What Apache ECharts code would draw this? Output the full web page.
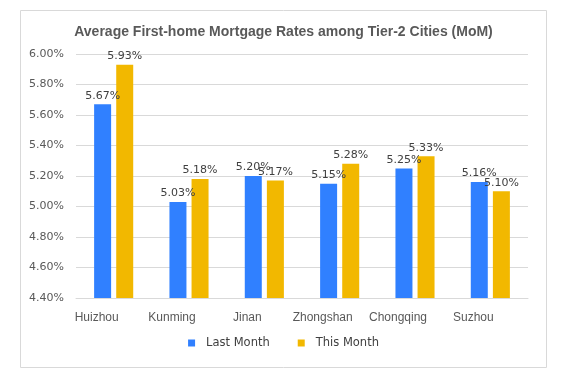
<!DOCTYPE html>
<html><head><meta charset="utf-8">
<script src="https://cdn.jsdelivr.net/npm/echarts@6/dist/echarts.min.js"></script>
<style>html,body{margin:0;padding:0;background:#fff}#c{width:567px;height:382px}</style>
</head><body><div id="c"></div>
<script>
const categories = ['Huizhou','Kunming','Jinan','Zhongshan','Chongqing','Suzhou'];
const lastMonth = [5.67, 5.03, 5.20, 5.15, 5.25, 5.16];
const thisMonth = [5.93, 5.18, 5.17, 5.28, 5.33, 5.10];
const seriesNames = ['Last Month','This Month'];
const chart = echarts.init(document.getElementById('c'));
const lbl = {show:true, position:'top', distance:3, color:'#404040', fontSize:11, fontFamily:'DejaVu Sans', formatter:p=>p.value.toFixed(2)+'%'};
chart.setOption({
  animation:false,
  graphic:[{type:'rect', shape:{x:20.5,y:10.5,width:526,height:357}, style:{fill:'none', stroke:'#d9d9d9', lineWidth:1}}],
  title:{text:'Average First-home Mortgage Rates among Tier-2 Cities (MoM)', left:'center', top:20,
    textStyle:{fontSize:14, fontWeight:'bold', color:'#595959', fontFamily:'Liberation Sans'}},
  legend:{data:seriesNames, bottom:28, left:'center', itemWidth:7, itemHeight:7, itemGap:28, icon:'rect',
    textStyle:{color:'#404040', fontSize:11.5, fontFamily:'DejaVu Sans', padding:[0,0,0,6]}},
  grid:{left:76, right:39, top:54, bottom:84},
  xAxis:{type:'category', data:categories,
    axisLine:{lineStyle:{color:'#d9d9d9'}}, axisTick:{show:false},
    axisLabel:{interval:0, color:'#595959', fontSize:12, fontFamily:'Liberation Sans', margin:14, padding:[0,34,0,0]}},
  yAxis:{type:'value', min:4.4, max:6.0, interval:0.2,
    axisLabel:{color:'#595959', fontSize:11, fontFamily:'DejaVu Sans', margin:12, formatter:v=>v.toFixed(2)+'%'},
    splitLine:{lineStyle:{color:'#d9d9d9'}}, axisLine:{show:false}, axisTick:{show:false}},
  series:[
    {name:seriesNames[0], type:'bar', data:lastMonth, barWidth:17, barGap:'30%', itemStyle:{color:'#3080ff'}, label:lbl},
    {name:seriesNames[1], type:'bar', data:thisMonth, barWidth:17, itemStyle:{color:'#f2b800'}, label:lbl}
  ]
});
</script></body></html>
